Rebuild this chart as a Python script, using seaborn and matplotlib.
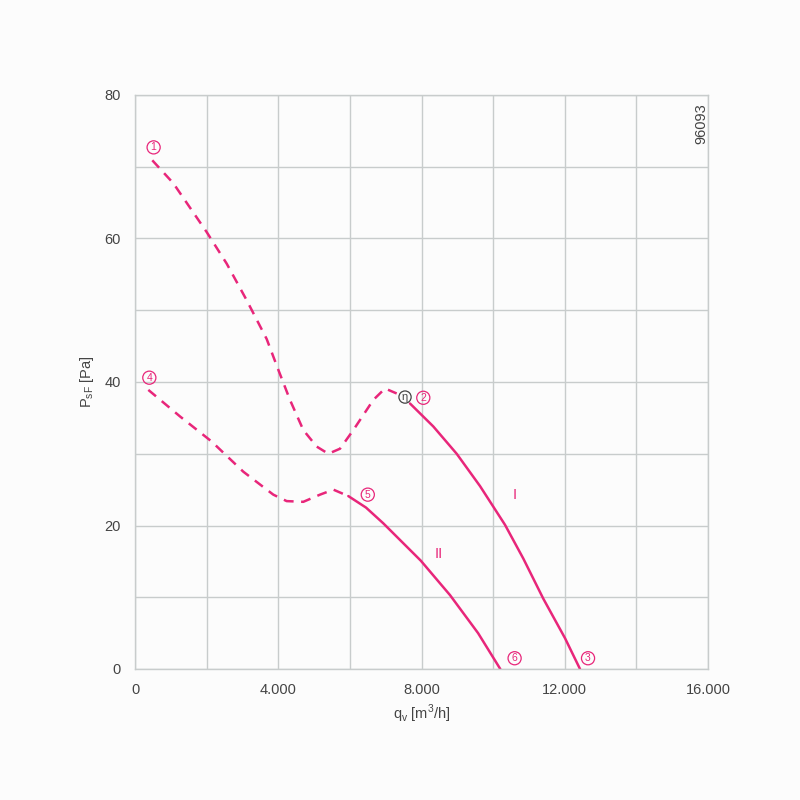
import matplotlib
matplotlib.use("Agg")
import matplotlib.pyplot as plt
import matplotlib.ticker as mticker
import seaborn as sns

sns.set_style("white")
plt.rcParams["font.family"] = ["Liberation Sans", "DejaVu Sans"]

# curve I (dashed part, then solid part)
q1_dash = [483, 1070, 2001, 2560, 3118, 3676, 4002, 4328, 4700, 5073, 5398, 5724,
           6096, 6654, 6981, 7307]
p1_dash = [70.9, 67.7, 60.9, 56.5, 51.4, 46.0, 41.7, 37.5, 33.3, 31.0, 30.0, 30.7,
           33.3, 37.5, 39.1, 38.4]
q1_solid = [7680, 8330, 8982, 9633, 10331, 10842, 11401, 12007, 12426]
p1_solid = [37.0, 33.8, 30.0, 25.5, 20.1, 15.4, 9.8, 4.3, 0.0]

# curve II
q2_dash = [372, 1257, 2141, 3024, 3862, 4235, 4700, 5166, 5538, 5957]
p2_dash = [38.9, 35.2, 31.7, 27.5, 24.3, 23.4, 23.3, 24.3, 25.0, 24.1]
q2_solid = [5957, 6450, 6934, 7980, 8796, 9580, 10200]
p2_solid = [24.1, 22.5, 20.3, 15.1, 10.3, 5.0, 0.0]

marks = ["1", "2", "3", "4", "5", "6"]
mark_q = [520, 8050, 12650, 400, 6500, 10600]
mark_p = [72.7, 37.8, 1.5, 40.6, 24.3, 1.5]

pink = "#e8267a"
grid_c = "#c8cccc"
text_c = "#444444"

fig = plt.figure(figsize=(8, 8), dpi=100)
fig.patch.set_facecolor("#fcfcfc")
ax = fig.add_axes([0.16875, 0.16375, 0.71625, 0.7175])
ax.set_facecolor("#fcfcfc")

sns.lineplot(x=q1_dash, y=p1_dash, ax=ax, color=pink, lw=1.8,
             linestyle=(0, (4, 3)), sort=False)
sns.lineplot(x=q1_solid, y=p1_solid, ax=ax, color=pink, lw=1.8, sort=False)
sns.lineplot(x=q2_dash, y=p2_dash, ax=ax, color=pink, lw=1.8,
             linestyle=(0, (4, 3)), sort=False)
sns.lineplot(x=q2_solid, y=p2_solid, ax=ax, color=pink, lw=1.8, sort=False)

ax.set_xlim(0, 16000)
ax.set_ylim(0, 80)
ax.xaxis.set_major_locator(mticker.MultipleLocator(4000))
ax.xaxis.set_minor_locator(mticker.MultipleLocator(2000))
ax.yaxis.set_major_locator(mticker.MultipleLocator(20))
ax.yaxis.set_minor_locator(mticker.MultipleLocator(10))
ax.xaxis.set_major_formatter(mticker.FuncFormatter(
    lambda v, p: "0" if v == 0 else f"{int(v):,}".replace(",", ".")))
ax.grid(which="both", color=grid_c, lw=1.0)
ax.set_axisbelow(True)
for s in ax.spines.values():
    s.set_color(grid_c)
    s.set_linewidth(1.0)
ax.tick_params(which="major", direction="out", length=6, color=grid_c,
               labelsize=10.5, labelcolor=text_c, pad=4)
ax.tick_params(which="minor", length=0)

ax.set_xlabel("q$_\\mathregular{v}$ [m$^\\mathregular{3}$/h]", fontsize=10.5,
              color=text_c, labelpad=4)
ax.set_ylabel("P$_\\mathregular{sF}$ [Pa]", fontsize=10.5, color=text_c, labelpad=6)

for m, q, p in zip(marks, mark_q, mark_p):
    ax.text(q, p, m, fontsize=7.5, color=pink, ha="center", va="center",
            bbox=dict(boxstyle="circle,pad=0.15", fc="none", ec=pink, lw=0.9))
ax.text(7540, 37.9, "η", fontsize=8, color=text_c, ha="center", va="center",
        bbox=dict(boxstyle="circle,pad=0.1", fc="none", ec=text_c, lw=0.9))
ax.text(10600, 24.2, "I", fontsize=10.5, color=pink, ha="center", va="center")
ax.text(8480, 16.0, "II", fontsize=10.5, color=pink, ha="center", va="center")
ax.text(15805, 76.0, "96093", fontsize=10.5, color=text_c, rotation=90,
        ha="center", va="center")

fig.savefig("out.png", dpi=100, facecolor=fig.get_facecolor())
